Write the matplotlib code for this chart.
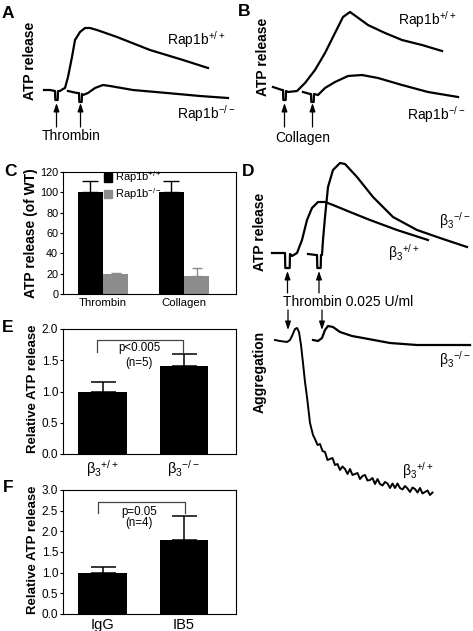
import numpy as np
import matplotlib
matplotlib.use('Agg')
import matplotlib.pyplot as plt
from matplotlib.patches import Patch

plt.rcParams['font.family'] = ['Liberation Sans', 'DejaVu Sans']
plt.rcParams['mathtext.fontset'] = 'custom'
plt.rcParams['mathtext.rm'] = 'Liberation Sans'
plt.rcParams['mathtext.it'] = 'Liberation Sans:italic'
plt.rcParams['mathtext.bf'] = 'Liberation Sans:bold'
plt.rcParams['mathtext.default'] = 'regular'

##############################################################################
# Dados

# A - trombina, Rap1b (tempo, sinal em u.a.)
a_wt_t = [4, 10, 15, 15.3, 17.7, 18, 20, 23, 25, 28, 32, 35, 40, 45, 50, 57, 77, 110, 143, 168]
a_wt_s = [50, 50, 49, 40, 40, 49, 49, 51, 52, 63, 83, 100, 108, 112, 112, 110, 103, 90, 80, 72]
a_ko_t = [28, 37, 39, 39.3, 41.7, 42, 43, 48, 55, 63, 70, 93, 127, 160, 188]
a_ko_s = [49, 47, 47, 38, 38, 46, 45, 47, 52, 55, 54, 50, 47, 44, 42]
a_setas = [16.5, 40.5]

# B - colageno, Rap1b
b_wt_t = [8, 17, 18, 18.3, 20.7, 21, 23, 32, 40, 50, 60, 70, 78, 85, 92, 103, 120, 137, 157, 177]
b_wt_s = [53, 50, 50, 40, 40, 49, 48, 49, 57, 70, 87, 107, 123, 128, 123, 115, 107, 100, 95, 89]
b_ko_t = [38, 45, 46, 46.3, 48.7, 49, 53, 60, 70, 83, 97, 113, 137, 163, 193]
b_ko_s = [48, 46, 46, 38, 38, 46, 45, 52, 58, 64, 65, 62, 55, 48, 43]
b_setas = [19.5, 47.5]

# C - liberacao de ATP (% do WT)
c_categorias = ['Thrombin', 'Collagen']
c_wt = [100, 100]
c_wt_err = [11, 11]
c_ko = [20, 18]
c_ko_err = [1, 8]

# D - liberacao de ATP, beta3
d_wt_t = [7, 18, 20, 20.3, 24.7, 25, 27, 32, 37, 42, 47, 53, 60, 68, 85, 105, 132, 163]
d_wt_s = [47, 47, 47, 32, 32, 46, 44, 47, 60, 80, 92, 98, 98, 95, 88, 80, 70, 60]
d_ko_t = [43, 51, 52, 52.3, 55.7, 56, 57, 58, 60, 63, 68, 75, 80, 92, 108, 128, 152, 175, 202]
d_ko_s = [46, 45, 45, 32, 32, 45, 45, 60, 83, 113, 130, 137, 136, 123, 103, 83, 70, 62, 53]
d_setas = [22.5, 54]

# D - agregacao
agg_ko_t = [48, 53, 57, 60, 63, 68, 75, 87, 98, 125, 152, 205]
agg_ko_s = [160, 159, 162, 170, 174, 173, 168, 164, 162, 157, 155, 155]
agg_wt_t = [10, 15, 22, 25, 27, 30, 32, 34, 36, 38, 40, 42, 45, 48,
            50, 52.5, 55, 57.5, 60, 62.5, 65, 67.5, 70, 72.5, 75, 77.5,
            80, 82.5, 85, 87.5, 90, 92.5, 95, 97.5, 100, 102.5, 105, 107.5,
            110, 112.5, 115, 117.5, 120, 122.5, 125, 127.5, 130, 132.5,
            135, 137.5, 140, 142.5, 145, 147.5, 150, 152.5, 155, 157.5,
            160, 162.5, 165, 167.5]
agg_wt_s = [160, 159, 158, 160, 164, 171, 172, 168, 155, 137, 118, 103, 77, 65,
            61, 55, 56, 49, 48, 40, 41, 42, 35, 36, 30, 33.5,
            31, 26, 31, 25, 26, 27, 21, 24, 25, 19.5, 20, 22,
            16, 21, 16, 14.5, 18, 16.5, 12, 16.5, 12, 16.5,
            12, 10.5, 14, 11.5, 8, 12.5, 11, 7.5, 12, 6.5,
            8, 9.5, 5, 7.5]
agg_setas = [23, 57]

# E - beta3
e_categorias = [r'β${}_{3}{}^{+/+}$', r'β${}_{3}{}^{-/-}$']
e_vals = [1.0, 1.41]
e_err = [0.16, 0.19]

# F - IgG x IB5
f_categorias = ['IgG', 'IB5']
f_vals = [1.0, 1.79]
f_err = [0.13, 0.57]

##############################################################################
W, H = 473, 631
fig = plt.figure(figsize=(W / 100, H / 100), dpi=100)


def eixo(x0, y0, x1, y1):
    return fig.add_axes([x0 / W, 1 - y1 / H, (x1 - x0) / W, (y1 - y0) / H])


def texto(x, y, s, **kw):
    fig.text(x / W, 1 - y / H, s, **kw)


def seta(ax, t, de, ate):
    ax.annotate('', xy=(t, ate), xytext=(t, de),
                arrowprops=dict(arrowstyle='-|>,head_width=0.17,head_length=0.5',
                                lw=0.9, color='k', shrinkA=0, shrinkB=0),
                annotation_clip=False)


def tracado(ax, largura, altura):
    ax.set_xlim(0, largura)
    ax.set_ylim(0, altura)
    ax.axis('off')


# Painel A
axA = eixo(40, 0, 235, 140)
tracado(axA, 195, 140)
axA.plot(a_wt_t, a_wt_s, color='k', lw=1.6, solid_joinstyle='round')
axA.plot(a_ko_t, a_ko_s, color='k', lw=1.6, solid_joinstyle='round')
for t in a_setas:
    seta(axA, t, 13, 37)
texto(71, 136, 'Thrombin', fontsize=10, ha='center', va='center')
texto(167, 45, r'Rap1b${}^{+/+}$', fontsize=10, va='baseline')
texto(177, 119, r'Rap1b${}^{-/-}$', fontsize=10, va='baseline')
texto(30, 61, 'ATP release', fontsize=10, fontweight='bold', rotation=90, ha='center', va='center')

# Painel B
axB = eixo(265, 0, 470, 140)
tracado(axB, 205, 140)
axB.plot(b_wt_t, b_wt_s, color='k', lw=1.6, solid_joinstyle='round')
axB.plot(b_ko_t, b_ko_s, color='k', lw=1.6, solid_joinstyle='round')
for t in b_setas:
    seta(axB, t, 13, 37)
texto(303, 138, 'Collagen', fontsize=10, ha='center', va='center')
texto(398, 25, r'Rap1b${}^{+/+}$', fontsize=10, va='baseline')
texto(407, 120, r'Rap1b${}^{-/-}$', fontsize=10, va='baseline')
texto(263, 57, 'ATP release', fontsize=10, fontweight='bold', rotation=90, ha='center', va='center')

# Painel C
axC = eixo(63, 172, 236, 294)
x = np.arange(len(c_categorias))
w = 0.309
axC.bar(x - w / 2, c_wt, w, color='k')
axC.bar(x + w / 2, c_ko, w, color='#8c8c8c')
axC.errorbar(x - w / 2, c_wt, yerr=[np.zeros(2), c_wt_err], fmt='none', ecolor='k',
             elinewidth=1, capsize=5.5, capthick=1)
axC.errorbar(x + w / 2, c_ko, yerr=[np.zeros(2), c_ko_err], fmt='none', ecolor='#8c8c8c',
             elinewidth=1, capsize=3.8, capthick=1)
axC.set_xlim(-0.494, 1.642)
axC.set_ylim(0, 120)
axC.set_yticks(range(0, 121, 20))
axC.set_xticks(x)
axC.set_xticklabels(c_categorias)
axC.tick_params(axis='y', length=2, width=0.8, labelsize=7.8, pad=1.5)
axC.tick_params(axis='x', length=0, labelsize=8.2, pad=3)
axC.legend(handles=[Patch(color='k', label=r'Rap1b${}^{+/+}$'),
                    Patch(color='#8c8c8c', label=r'Rap1b${}^{-/-}$')],
           loc='upper left', bbox_to_anchor=(0.235, 1.02), frameon=False, fontsize=8,
           handlelength=0.75, handleheight=0.75, handletextpad=0.25,
           labelspacing=0.05, borderpad=0, borderaxespad=0)
texto(31, 233, 'ATP release (of WT)', fontsize=10, fontweight='bold', rotation=90,
      ha='center', va='center')

# Painel D - ATP
axD = eixo(265, 150, 473, 300)
tracado(axD, 208, 150)
axD.plot(d_wt_t, d_wt_s, color='k', lw=1.6, solid_joinstyle='round')
axD.plot(d_ko_t, d_ko_s, color='k', lw=1.6, solid_joinstyle='round')
for t in d_setas:
    seta(axD, t, 7, 29)
texto(283, 302, 'Thrombin 0.025 U/ml', fontsize=10, va='center')
texto(439, 226, r'β${}_{3}{}^{-/-}$', fontsize=10, va='baseline')
texto(388, 258, r'β${}_{3}{}^{+/+}$', fontsize=10, va='baseline')
texto(260, 232, 'ATP release', fontsize=10, fontweight='bold', rotation=90, ha='center', va='center')

# Painel D - agregacao
axAg = eixo(265, 305, 473, 500)
tracado(axAg, 208, 195)
axAg.plot(agg_wt_t, agg_wt_s, color='k', lw=1.4, solid_joinstyle='round')
axAg.plot(agg_ko_t, agg_ko_s, color='k', lw=1.6, solid_joinstyle='round')
for t in agg_setas:
    seta(axAg, t, 190, 170)
texto(439, 365, r'β${}_{3}{}^{-/-}$', fontsize=10, va='baseline')
texto(402, 476, r'β${}_{3}{}^{+/+}$', fontsize=10, va='baseline')
texto(260, 372, 'Aggregation', fontsize=10, fontweight='bold', rotation=90, ha='center', va='center')


def barras(ax, categorias, vals, errs, ymax, passo, colchete, p_txt, n_txt, y_txt):
    x = np.arange(len(categorias))
    ax.bar(x, vals, 0.597, color='k')
    ax.errorbar(x, vals, yerr=[np.zeros(len(vals)), errs], fmt='none', ecolor='k',
                elinewidth=1.1, capsize=9, capthick=1.1)
    ax.set_xlim(-0.486, 1.642)
    ax.set_ylim(0, ymax)
    ax.set_yticks(np.arange(0, ymax + 0.01, passo))
    ax.set_yticklabels(['%.1f' % v for v in np.arange(0, ymax + 0.01, passo)])
    ax.set_xticks(x)
    ax.set_xticklabels(categorias)
    ax.tick_params(axis='y', length=2, width=0.8, labelsize=8.5, pad=1.5)
    ax.tick_params(axis='x', length=0, labelsize=10.5, pad=3)
    xl, xr, yb, yt = colchete
    ax.plot([xl, xl, xr, xr], [yb, yt, yt, yb], color='#444444', lw=0.9)
    ax.text(0.45, y_txt[0], p_txt, ha='center', va='center', fontsize=8.3)
    ax.text(0.45, y_txt[1], n_txt, ha='center', va='center', fontsize=8.3)


# Painel E
axE = eixo(63, 329, 236, 454)
barras(axE, e_categorias, e_vals, e_err, 2.0, 0.5, (-0.063, 0.994, 1.63, 1.824),
       'p<0.005', '(n=5)', (1.70, 1.46))
texto(33, 389, 'Relative ATP release', fontsize=9.5, fontweight='bold', rotation=90,
      ha='center', va='center')

# Painel F
axF = eixo(63, 490, 236, 614)
barras(axF, f_categorias, f_vals, f_err, 3.0, 0.5, (-0.05, 1.015, 2.44, 2.72),
       'p=0.05', '(n=4)', (2.47, 2.20))
texto(33, 550, 'Relative ATP release', fontsize=9.5, fontweight='bold', rotation=90,
      ha='center', va='center')

# Letras dos paineis
for letra, (lx, ly) in zip('ABCDEF', [(8, 13), (244, 12), (10, 172), (248, 172), (8, 327), (8, 488)]):
    texto(lx, ly, letra, fontsize=12.5, fontweight='bold', ha='center', va='center')

fig.savefig('out.png', dpi=100)
